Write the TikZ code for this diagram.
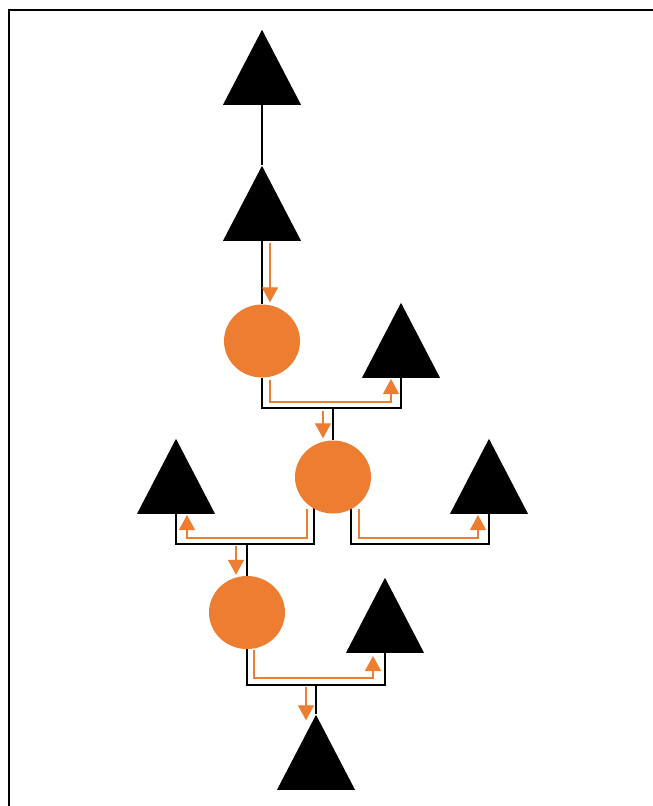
\documentclass[tikz,border=0pt]{standalone}
\usepackage{xcolor}
\usepackage{tikz}
\usetikzlibrary{shapes.geometric,arrows.meta,positioning,calc,backgrounds}
\definecolor{accentorange}{RGB}{237,125,49}

\begin{document}
\begin{tikzpicture}[x=1pt, y=-1pt]
  \tikzset{
    tri/.style={isosceles triangle, isosceles triangle stretches, shape border rotate=90,
      fill=black, inner sep=0pt, minimum width=78pt, minimum height=75pt, anchor=lower side},
    ball/.style={ellipse, fill=accentorange, inner sep=0pt, minimum width=76pt, minimum height=73pt},
    link/.style={draw=black, line width=1.4pt},
    flow/.style={draw=accentorange, line width=1.3pt, -{Triangle[width=16pt,length=15pt]}}
  }
  \useasboundingbox (0,0) rectangle (653,806);
  \draw[line width=1.5pt] (9,806) -- (9,10) -- (653,10);

  % triangles (placed by base centre) and circles
  \node[tri] (t1) at (262,105) {};
  \node[tri] (t2) at (262,241) {};
  \node[ball] (c1) at (262,341) {};
  \node[tri] (t3) at (401,378) {};
  \node[ball] (c2) at (333,477) {};
  \node[tri] (t4) at (176,514) {};
  \node[tri] (t5) at (489,514) {};
  \node[ball] (c3) at (247,612.5) {};
  \node[tri] (t6) at (385,653) {};
  \node[tri] (t7) at (316,790) {};

  % junctions of the tree
  \coordinate (j1) at (333,408);
  \coordinate (j2) at (247,544);
  \coordinate (j4) at (316,685);

  \begin{scope}[on background layer]
    \draw[link] (t1.lower side) -- (t2.apex);
    \draw[link] (t2.lower side) -- (c1.north);
    \draw[link] (c1.south) |- (j1) -| (t3.lower side);
    \draw[link] (j1) -- (c2.north);
    \draw[link] ($(c2.center)+(-19,0)$) |- (j2) -| (t4.lower side);
    \draw[link] (j2) -- (c3.north);
    \draw[link] ($(c2.center)+(18,0)$) |- ($(t5.lower side)+(0,30)$) -- (t5.lower side);
    \draw[link] (c3.south) |- (j4) -| (t6.lower side);
    \draw[link] (j4) -- (t7.apex);
  \end{scope}

  % orange flow
  \draw[flow] ($(t2.lower side)+(8,2)$) -- ($(c1.north)+(8,-2)$);
  \draw[flow] ($(c1.south)+(8,2)$) |- ($(t3.lower side)+(-10,24)$) -- ($(t3.lower side)+(-10,1)$);
  \draw[flow] ($(j1)+(-10,3)$) -- ($(c2.north)+(-10,-2)$);
  \draw[flow] ($(c2.center)+(-26,32)$) |- ($(t4.lower side)+(11,24)$) -- ($(t4.lower side)+(11,1)$);
  \draw[flow] ($(c2.center)+(26,32)$) |- ($(t5.lower side)+(-11,24)$) -- ($(t5.lower side)+(-11,1)$);
  \draw[flow] ($(j2)+(-11,2)$) -- ($(c3.north)+(-11,-1)$);
  \draw[flow] ($(c3.south)+(7,1)$) |- ($(t6.lower side)+(-12,25)$) -- ($(t6.lower side)+(-12,3)$);
  \draw[flow] ($(j4)+(-10,2)$) -- ($(t7.apex)+(-10,6)$);
\end{tikzpicture}
\end{document}
